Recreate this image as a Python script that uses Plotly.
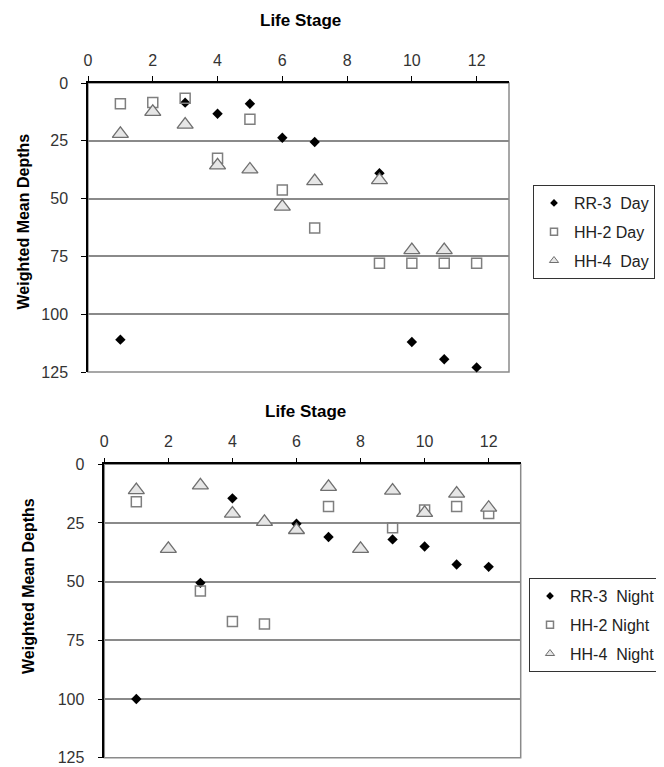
import plotly.graph_objects as go

# ---------------- data ----------------
# Day (top panel)
rr3_day_x = [1, 3, 4, 5, 6, 7, 9, 10, 11, 12]
rr3_day_y = [111, 8.5, 13.3, 9, 23.7, 25.5, 39, 112, 119.5, 123]
hh2_day_x = [1, 2, 3, 4, 5, 6, 7, 9, 10, 11, 12]
hh2_day_y = [9, 8.4, 6.6, 32.5, 15.7, 46.3, 62.7, 78, 78, 78, 78]
hh4_day_x = [1, 2, 3, 4, 5, 6, 7, 9, 10, 11]
hh4_day_y = [22, 12.5, 18, 35.6, 37.4, 53.5, 42.4, 42, 72.3, 72.3]

# Night (bottom panel)
rr3_night_x = [1, 3, 4, 6, 7, 9, 10, 11, 12]
rr3_night_y = [100, 50.5, 14.5, 25.3, 31, 32, 35, 42.7, 43.7]
hh2_night_x = [1, 3, 4, 5, 7, 9, 10, 11, 12]
hh2_night_y = [16, 54, 67, 68, 18, 27, 19.5, 18, 21]
hh4_night_x = [1, 2, 3, 4, 5, 6, 7, 8, 9, 10, 11, 12]
hh4_night_y = [11, 36, 9, 21, 24.5, 28, 9.6, 36, 11.2, 20.7, 12.5, 18.5]

names_day = ["RR-3  Day", "HH-2 Day", "HH-4  Day"]
names_night = ["RR-3  Night", "HH-2 Night", "HH-4  Night"]
x_title = "Life Stage"
y_title = "Weighted Mean Depths"

# ---------------- styling ----------------
FONT = "Liberation Sans, Arial, sans-serif"
GRID = "#8a8a8a"

def diamond(s):
    return dict(symbol="diamond", size=s, color="black", line=dict(width=0))

def square(s):
    return dict(symbol="square-open", size=s, color="#7f7f7f", line=dict(width=1.5))

def triangle(s, lw=1.3):
    return dict(symbol="triangle-up", size=s, color="#e6e6e6",
                line=dict(width=lw, color="#6f6f6f"))

plot_markers = [diamond(8), square(10), triangle(14)]
legend_markers = [diamond(6), square(7), triangle(8, 1)]

fig = go.Figure()

panels = [
    ("legend", "x", "y", names_day,
     [(rr3_day_x, rr3_day_y), (hh2_day_x, hh2_day_y), (hh4_day_x, hh4_day_y)]),
    ("legend2", "x2", "y2", names_night,
     [(rr3_night_x, rr3_night_y), (hh2_night_x, hh2_night_y),
      (hh4_night_x, hh4_night_y)]),
]

for leg, xa, ya, names, series in panels:
    for i, (xs, ys) in enumerate(series):
        fig.add_trace(go.Scatter(x=xs, y=ys, mode="markers",
                                 marker=plot_markers[i], name=names[i],
                                 legendgroup=leg + str(i), showlegend=False,
                                 xaxis=xa, yaxis=ya, cliponaxis=False))
    # legend entries with the small Excel-style legend symbols
    for i in range(len(series)):
        fig.add_trace(go.Scatter(x=[None], y=[None], mode="markers",
                                 marker=legend_markers[i], name=names[i],
                                 legendgroup=leg + str(i), legend=leg,
                                 xaxis=xa, yaxis=ya, showlegend=True))

# the page body adds an 8px offset; the figure is sized to fit the window
OFF = 8
W, H = 664 - OFF, 767 - OFF

def px(x):
    return (x - OFF) / W

def py(y):
    return 1 - (y - OFF) / H

def xdom(a, b):
    return [px(a), px(b)]

def ydom(top, bottom):
    return [py(bottom), py(top)]

xcommon = dict(range=[0, 13], tick0=0, dtick=2, side="top", ticks="outside",
               ticklen=5, tickcolor="black", showline=True, linecolor="black",
               linewidth=1.5, showgrid=False, zeroline=False, automargin=False,
               tickfont=dict(family=FONT, size=16, color="#333"),
               ticklabelstandoff=4)
ycommon = dict(range=[125, 0], tick0=0, dtick=25, ticks="outside", ticklen=5,
               tickcolor="black", showline=True, linecolor="black",
               linewidth=1.5, showgrid=True, gridcolor=GRID, gridwidth=1.5,
               zeroline=False, automargin=False,
               tickfont=dict(family=FONT, size=16, color="#333"),
               ticklabelstandoff=10)

legend_common = dict(xanchor="left", yanchor="top", bordercolor="#333",
                     borderwidth=1, bgcolor="white",
                     font=dict(family=FONT, size=16, color="#222"),
                     tracegroupgap=5, itemwidth=30, itemsizing="trace")

fig.update_layout(
    width=W, height=H, margin=dict(l=0, r=0, t=0, b=0, autoexpand=False),
    paper_bgcolor="white", plot_bgcolor="white",
    xaxis=dict(domain=xdom(88, 509), anchor="y", **xcommon),
    yaxis=dict(domain=ydom(83, 372), anchor="x", **ycommon),
    xaxis2=dict(domain=xdom(104.3, 520.7), anchor="y2", **xcommon),
    yaxis2=dict(domain=ydom(464.3, 757.7), anchor="x2", **ycommon),
    legend=dict(x=px(533), y=py(185), **legend_common),
    legend2=dict(x=px(529), y=py(578), **legend_common),
    showlegend=True,
)

# plot-area frames (gray right/bottom borders)
for xr, yr in [("x", "y"), ("x2", "y2")]:
    fig.add_shape(type="rect", xref=xr + " domain", yref=yr + " domain",
                  x0=0, x1=1, y0=0, y1=1, line=dict(color=GRID, width=1.5),
                  layer="below")

title_font = dict(family=FONT, size=17, color="black", weight="bold")
ann_common = dict(xref="paper", yref="paper", showarrow=False,
                  xanchor="center", yanchor="middle")
fig.add_annotation(text=x_title, x=px(300), y=py(20), font=title_font,
                   **ann_common)
fig.add_annotation(text=x_title, x=px(305), y=py(411), font=title_font,
                   **ann_common)
ytf = dict(family=FONT, size=16, color="black", weight="bold")
fig.add_annotation(text=y_title, x=px(23), y=py(221.5), textangle=-90,
                   font=ytf, **ann_common)
fig.add_annotation(text=y_title, x=px(28), y=py(586), textangle=-90,
                   font=ytf, **ann_common)

fig.write_html("out.html")
